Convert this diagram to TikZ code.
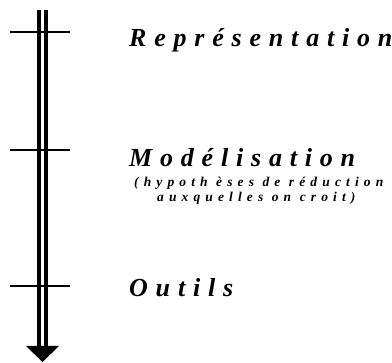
\documentclass[tikz,border=0pt]{standalone}
\usepackage{fontspec}
\setmainfont{Liberation Serif}
\newfontfamily\spaced[LetterSpace=30]{Liberation Serif}
\newfontfamily\spacedsmall[LetterSpace=38]{Liberation Serif}
\begin{document}
\begin{tikzpicture}[x=1pt,y=-1pt,
  tick/.style={line width=1.1pt},
  title/.style={anchor=base west,inner sep=0pt,font=\spaced\bfseries\itshape\fontsize{26}{28}\selectfont},
  note/.style={anchor=base west,inner sep=0pt,font=\spacedsmall\bfseries\itshape\fontsize{13.5}{15}\selectfont}]
\useasboundingbox (0,0) rectangle (392,363);
\coordinate (top) at (42.5,10);
\coordinate (bot) at (42.5,346);
\coordinate (tip) at (42.5,362);
\draw[line width=4.25pt,double=white,double distance=2.3pt] (top) -- (bot);
\fill ([xshift=-16.5pt]bot) -- ([xshift=16.5pt]bot) -- (tip) -- cycle;
\foreach \n/\y in {a/32,b/150,c/286}{
  \coordinate (\n l) at (10,\y);
  \coordinate (\n r) at (70,\y);
  \draw[tick] (\n l) -- (\n r);
}
\node[title] (rep) at (129,47) {Représentation};
\node[title] (mod) at (129,167) {Modélisation};
\node[note] (h1) at (134,187) {(hypoth èses de réduction};
\node[note] (h2) at (157,202) {auxquelles on croit)};
\node[title] (out) at (129,297) {Outils};
\end{tikzpicture}
\end{document}
